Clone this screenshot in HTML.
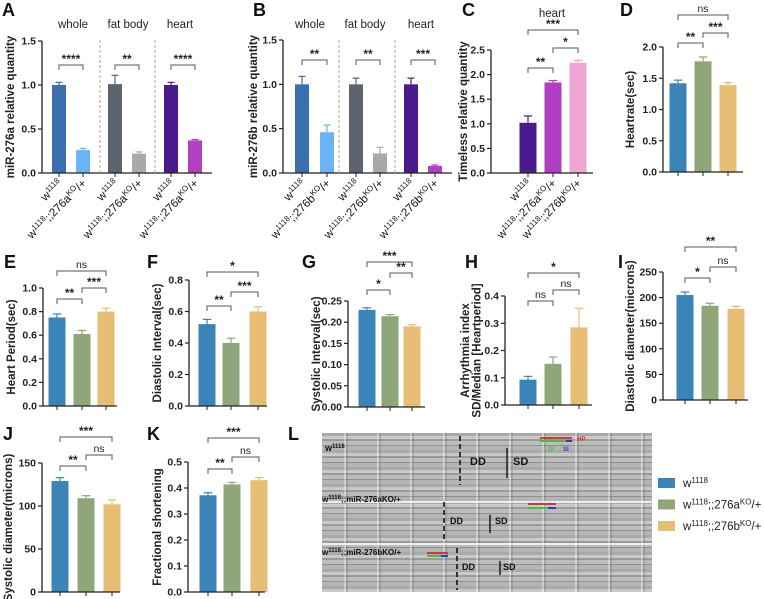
<!DOCTYPE html>
<html><head><meta charset="utf-8"><style>
body{margin:0;background:#fff;width:764px;height:599px;overflow:hidden;font-family:"Liberation Sans",Arial,sans-serif}
svg text{font-family:"Liberation Sans",Arial,sans-serif}
#kymo{position:absolute;left:322px;top:433px;width:330px;height:159px;
background:
repeating-linear-gradient(90deg,rgba(255,255,255,0) 0 22px,rgba(255,255,255,.35) 22px 24px,rgba(0,0,0,.12) 24px 26px,rgba(255,255,255,0) 26px 33px),
repeating-linear-gradient(180deg,#a9a9a9 0 3px,#c9c9c9 3px 6px,#9a9a9a 6px 8px,#bdbdbd 8px 12px,#8f8f8f 12px 13px,#b5b5b5 13px 17px);}
</style></head><body>
<div id="kymo"></div>
<svg id="fig" width="764" height="599" style="position:absolute;left:0;top:0"></svg>
<script>
const NS="http://www.w3.org/2000/svg";
const svg=document.getElementById('fig');
function mk(tag,attrs,parent,txt){const e=document.createElementNS(NS,tag);for(const k in attrs)e.setAttribute(k,attrs[k]);if(txt!==undefined)e.textContent=txt;(parent||svg).appendChild(e);return e;}

// ---- data ----
const aValues=[1.0,0.26,1.01,0.22,1.0,0.37];
const aErrors=[0.03,0.02,0.10,0.02,0.03,0.01];
const bValues=[1.0,0.46,1.0,0.22,1.0,0.08];
const bErrors=[0.09,0.08,0.07,0.07,0.07,0.01];
const cValues=[1.02,1.84,2.24];
const cErrors=[0.14,0.04,0.05];
const dValues=[1.42,1.77,1.39];
const dErrors=[0.05,0.07,0.04];
const eValues=[0.75,0.61,0.80];
const eErrors=[0.03,0.03,0.03];
const fValues=[0.52,0.40,0.60];
const fErrors=[0.03,0.03,0.03];
const gValues=[0.229,0.214,0.190];
const gErrors=[0.005,0.004,0.004];
const hValues=[0.093,0.151,0.285];
const hErrors=[0.012,0.025,0.07];
const iValues=[205,184,178];
const iErrors=[6,5,5];
const jValues=[129,109,102];
const jErrors=[4,3,5];
const kValues=[0.372,0.414,0.430];
const kErrors=[0.01,0.008,0.01];
const ticksA=['0.0','0.5','1.0','1.5'];
const ticksC=['0.0','0.5','1.0','1.5','2.0','2.5'];
const ticksD=['0.0','0.5','1.0','1.5','2.0'];
const ticksE=['0.0','0.2','0.4','0.6','0.8','1.0'];
const ticksF=['0.0','0.2','0.4','0.6','0.8'];
const ticksG=['0.00','0.05','0.10','0.15','0.20','0.25'];
const ticksH=['0.0','0.1','0.2','0.3','0.4'];
const ticksI=['0','50','100','150','200','250'];
const ticksJ=['0','50','100','150'];
const ticksK=['0.0','0.1','0.2','0.3','0.4','0.5'];
const genoColors=['#3a84b8','#8fa57a','#e8bd74'];

function panel(p){
  const g=mk('g',{});
  const vmax=parseFloat(p.ticks[p.ticks.length-1]);
  const y=v=>p.y0-(v/vmax)*(p.y0-p.y1);
  p.values.forEach((v,i)=>{
    const cx=p.bx[i], w=p.bw, top=y(v), col=p.colors[i];
    const r=mk('rect',{x:cx-w/2,y:top,width:w,height:p.y0-top,fill:col},g);
    
    
    const et=y(v+p.errors[i]);
    mk('line',{x1:cx,x2:cx,y1:top,y2:et,stroke:col,'stroke-width':1.2},g);
    mk('line',{x1:cx-w/4,x2:cx+w/4,y1:et,y2:et,stroke:col,'stroke-width':1.2},g);
    mk('line',{x1:cx,x2:cx,y1:p.y0,y2:p.y0+4,stroke:'#222','stroke-width':1},g);
  });
  mk('line',{x1:p.ax,x2:p.ax,y1:p.y1,y2:p.y0,stroke:'#222','stroke-width':1.3},g);
  mk('line',{x1:p.ax,x2:p.xend,y1:p.y0,y2:p.y0,stroke:'#222','stroke-width':1.3},g);
  p.ticks.forEach(t=>{
    const ty=y(parseFloat(t));
    mk('line',{x1:p.ax-4,x2:p.ax,y1:ty,y2:ty,stroke:'#222','stroke-width':1.2},g);
    const tl=mk('text',{x:p.ax-6,y:ty+3.5,'text-anchor':'end','font-size':10.5,'font-weight':'bold',fill:'#222'},g,t);
    
    
  });
  const yl=mk('text',{transform:`translate(${p.ylx},${(p.y0+p.y1)/2}) rotate(-90)`,'text-anchor':'middle','font-size':11.5,'font-weight':'bold',fill:'#222'},g);
  
  
  p.ylabel.forEach((s,k)=>{mk('tspan',{x:0,dy:k?11.5:0},yl,s);});
  if(p.ylabel.length>1) yl.setAttribute('transform',`translate(${p.ylx-6},${(p.y0+p.y1)/2}) rotate(-90)`);
  const L=mk('text',{x:p.lx,y:p.ly,'font-size':18,'font-weight':'bold',fill:'#111'},g,p.letter);
  
  
  (p.brackets||[]).forEach(b=>{
    const x1=p.bx[b[0]],x2=p.bx[b[1]],by=b[2];
    mk('path',{d:`M${x1},${by+5}V${by}H${x2}V${by+5}`,fill:'none',stroke:'#555','stroke-width':1},g);
    const st=mk('text',{x:(x1+x2)/2,y:b[3]==='ns'?by-3:by-2,'text-anchor':'middle','font-size':b[3]==='ns'?10.5:12,'font-weight':b[3]==='ns'?'normal':'bold',fill:'#222'},g,b[3]);
    
    
  });
  (p.xlabels||[]).forEach((lab,i)=>{
    const t=mk('text',{transform:`translate(${p.bx[i]+4},${p.y0+11}) rotate(-45)`,'text-anchor':'end','font-size':11.5,fill:'#111'},g);
    
    
    lab.forEach(seg=>{mk('tspan',seg[1]?{'baseline-shift':'super','font-size':8}:{},t,seg[0]);});
  });
  return {g,y};
}
const WT=[['w'],['1118',1]];
const KOa=[['w'],['1118',1],[';;276a'],['KO',1],['/+']];
const KOb=[['w'],['1118',1],[';;276b'],['KO',1],['/+']];

let A=panel({name:'panel-a',letter:'A',lx:2,ly:16,ax:42,xend:212,y0:173,y1:41,bx:[59,83,115,139,171,195],bw:14,
 values:aValues,errors:aErrors,ticks:ticksA,colors:['#3b6fae','#6ab4f5','#5c6470','#a6aaa8','#4b1a8c','#b340c0'],
 ylx:14,ylabel:['miR-276a relative quantity'],
 brackets:[[0,1,65,'****'],[2,3,65,'**'],[4,5,65,'****']],xlabels:[WT,KOa,WT,KOa,WT,KOa]});
let B=panel({name:'panel-b',letter:'B',lx:253,ly:16,ax:283,xend:452,y0:173,y1:40,bx:[302,327,356,380,411,435],bw:14,
 values:bValues,errors:bErrors,ticks:ticksA,colors:['#3b6fae','#6ab4f5','#5c6470','#a6aaa8','#4b1a8c','#b340c0'],
 ylx:257,ylabel:['miR-276b relative quantity'],
 brackets:[[0,1,60,'**'],[2,3,60,'**'],[4,5,60,'***']],xlabels:[WT,KOb,WT,KOb,WT,KOb]});
[[100,A],[155,A],[339,B],[395,B]].forEach(s=>{mk('line',{x1:s[0],x2:s[0],y1:40,y2:173,stroke:'#aaa','stroke-width':1,'stroke-dasharray':'3,2'});});
[['whole',73],['fat body',128],['heart',180],['whole',310],['fat body',365],['heart',421]].forEach(t=>{
 const e=mk('text',{x:t[1],y:28,'text-anchor':'middle','font-size':11.5,fill:'#222'},svg,t[0]);
 });
panel({name:'panel-c',letter:'C',lx:462,ly:16,ax:491,xend:593,y0:173,y1:50,bx:[528,553,578],bw:17,
 values:cValues,errors:cErrors,ticks:ticksC,colors:['#4b1a8c','#b03ec0','#eea6d5'],ylx:467,ylabel:['Timeless relative quantity'],
 brackets:[[0,1,68,'**'],[1,2,48,'*'],[0,2,30,'***']],xlabels:[WT,KOa,KOb]});
{const e=mk('text',{x:552,y:17,'text-anchor':'middle','font-size':11.5,fill:'#222'},svg,'heart');}
panel({name:'panel-d',letter:'D',lx:620,ly:16,ax:663,xend:743,y0:172,y1:47,bx:[678,703,728],bw:17,
 values:dValues,errors:dErrors,ticks:ticksD,colors:genoColors,ylx:634,ylabel:['Heartrate(sec)'],
 brackets:[[0,1,43,'**'],[1,2,33,'***'],[0,2,15,'ns']]});
panel({name:'panel-e',letter:'E',lx:4,ly:268,ax:43,xend:117,y0:406,y1:288,bx:[57,82,106],bw:17,
 values:eValues,errors:eErrors,ticks:ticksE,colors:genoColors,ylx:15,ylabel:['Heart Period(sec)'],
 brackets:[[0,1,299,'**'],[1,2,288,'***'],[0,2,271,'ns']]});
panel({name:'panel-f',letter:'F',lx:147,ly:268,ax:189,xend:267,y0:406,y1:280,bx:[207,231,258],bw:17,
 values:fValues,errors:fErrors,ticks:ticksF,colors:genoColors,ylx:161,ylabel:['Diastolic Interval(sec)'],
 brackets:[[0,1,306,'**'],[1,2,292,'***'],[0,2,272,'*']]});
panel({name:'panel-g',letter:'G',lx:302,ly:268,ax:348,xend:425,y0:407,y1:301,bx:[367,390,412],bw:17,
 values:gValues,errors:gErrors,ticks:ticksG,colors:genoColors,ylx:320,ylabel:['Systolic Interval(sec)'],
 brackets:[[0,1,290,'*'],[1,2,273,'**'],[0,2,262,'***']]});
panel({name:'panel-h',letter:'H',lx:465,ly:268,ax:505,xend:592,y0:405,y1:296,bx:[528,553,579],bw:17,
 values:hValues,errors:hErrors,ticks:ticksH,colors:genoColors,ylx:475,ylabel:['Arrhythmia index','SD/Median [Heartperiod]'],
 brackets:[[0,1,301,'ns'],[1,2,290,'ns'],[0,2,273,'*']]});
panel({name:'panel-i',letter:'I',lx:618,ly:268,ax:663,xend:748,y0:400,y1:272,bx:[685,710,736],bw:17,
 values:iValues,errors:iErrors,ticks:ticksI,colors:genoColors,ylx:634,ylabel:['Diastolic diameter(microns)'],
 brackets:[[0,1,278,'*'],[1,2,267,'ns'],[0,2,247,'**']]});
panel({name:'panel-j',letter:'J',lx:3,ly:440,ax:42,xend:120,y0:592,y1:463,bx:[60,86,112],bw:17,
 values:jValues,errors:jErrors,ticks:ticksJ,colors:genoColors,ylx:12,ylabel:['Systolic diameter(microns)'],
 brackets:[[0,1,466,'**'],[1,2,455,'ns'],[0,2,437,'***']]});
panel({name:'panel-k',letter:'K',lx:147,ly:440,ax:188,xend:265,y0:592,y1:462,bx:[208,232,259],bw:17,
 values:kValues,errors:kErrors,ticks:ticksK,colors:genoColors,ylx:161,ylabel:['Fractional shortening'],
 brackets:[[0,1,469,'**'],[1,2,457,'ns'],[0,2,438,'***']]});
{const e=mk('text',{x:288,y:440,'font-size':18,'font-weight':'bold',fill:'#111'},svg,'L');}
mk('line',{x1:322,x2:652,y1:502,y2:502,stroke:'#eee','stroke-width':2});
mk('line',{x1:322,x2:652,y1:544,y2:544,stroke:'#eee','stroke-width':2});
function kt(x,y,s,size,col){const t=mk('text',{x:x,y:y,'font-size':size||9,fill:col||'#111','font-weight':'bold'},svg);
 s.forEach(seg=>mk('tspan',seg[1]?{'baseline-shift':'super','font-size':6}:{},t,seg[0]));}
kt(325,451,[['w'],['1118',1]],9);
kt(322,502,[['w'],['1118',1],[';;miR-276aKO/+']],8);
kt(322,555,[['w'],['1118',1],[';;miR-276bKO/+']],8);
[[460,436,485,'5,3'],[444,502,540,'5,3'],[457,548,590,'5,3']].forEach(d=>mk('line',{x1:d[0],x2:d[0],y1:d[1],y2:d[2],stroke:'#111','stroke-width':1.6,'stroke-dasharray':d[3]}));
[[507,448,478],[490,515,533],[500,561,575]].forEach(d=>mk('line',{x1:d[0],x2:d[0],y1:d[1],y2:d[2],stroke:'#111','stroke-width':1.4}));
kt(470,465,[['DD']],11);kt(513,465,[['SD']],11);
kt(450,524,[['DD']],9);kt(495,524,[['SD']],9);
kt(462,570,[['DD']],9);kt(503,570,[['SD']],9);
[[540,572,438,'#e03030'],[540,566,441,'#40c040'],[566,572,441,'#2040d0'],[528,556,504,'#e03030'],[528,548,508,'#40c040'],[548,556,508,'#2040d0'],[427,448,553,'#e03030'],[427,441,556,'#40c040'],[441,448,556,'#2040d0']].forEach(d=>mk('line',{x1:d[0],x2:d[1],y1:d[2],y2:d[2],stroke:d[3],'stroke-width':2}));
kt(577,441,[['HP']],6,'#e03030');kt(548,451,[['DI']],6,'#40c040');kt(563,451,[['SI']],6,'#2040d0');
const legendLabels=[[['w'],['1118',1]],[['w'],['1118',1],[';;276a'],['KO',1],['/+']],[['w'],['1118',1],[';;276b'],['KO',1],['/+']]];
legendLabels.forEach((lab,i)=>{
 const yy=483+i*21.5;
 const r=mk('rect',{x:658,y:yy-5,width:17,height:10,fill:genoColors[i]});
 
 const t=mk('text',{x:683,y:yy+4,'font-size':11.5,fill:'#222'});
 
 lab.forEach(seg=>mk('tspan',seg[1]?{'baseline-shift':'super','font-size':8}:{},t,seg[0]));
});
</script>
</body></html>
